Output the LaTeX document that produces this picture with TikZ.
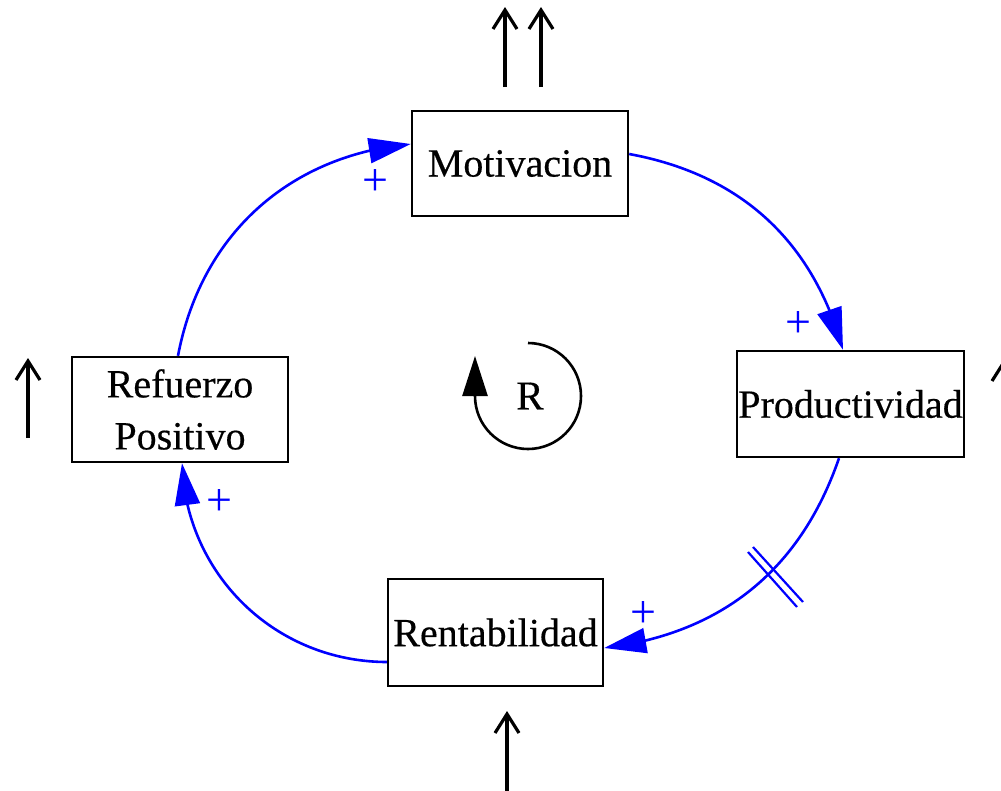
\documentclass[tikz,border=0pt]{standalone}
\usepackage{fontspec}
\setmainfont{Liberation Serif}[FakeBold=0.4]
\newfontfamily\plainserif{Liberation Serif}
\usetikzlibrary{arrows.meta,bending}
\begin{document}
\begin{tikzpicture}[x=1pt,y=1pt,
  box/.style={draw=black, line width=2.4pt, inner sep=0pt, font=\fontsize{40}{52}\selectfont, align=center},
  link/.style={draw=blue, line width=2.6pt, -{Triangle[length=42pt,width=25pt]}},
  pol/.style={text=blue, font=\plainserif\fontsize{46}{50}\selectfont, inner sep=0pt},
  flow/.style={draw=black, line width=3.2pt, -{Straight Barb[length=19pt,width=24pt]}},
  delaymark/.style={draw=blue, line width=2.2pt}]
\useasboundingbox (0,0) rectangle (1001,-790);
\clip (0,0) rectangle (1001,-790);

% boxes
\node[box, minimum width=216pt, minimum height=105pt] (mot) at (520,-163.5) {Motivacion};
\node[box, minimum width=227pt, minimum height=106pt] (prod) at (850.5,-404) {Productividad};
\node[box, minimum width=215pt, minimum height=107pt] (rent) at (495.5,-632.5) {Rentabilidad};
\node[box, minimum width=216pt, minimum height=105pt] (ref) at (180,-409.5) {Refuerzo\\Positivo};

% causal links
\draw[link] ([xshift=-2pt]ref.north) to[bend left=37] ([yshift=19.5pt]mot.west);
\draw[link] ([yshift=9.5pt]mot.east) to[bend left=32] ([xshift=-7.5pt]prod.north);
\draw[link] ([xshift=-11.5pt]prod.south) to[bend left=32] ([yshift=-15.5pt]rent.east);
\draw[link] ([yshift=-29.5pt]rent.west) to[bend left=44] ([xshift=2pt]ref.south);

% polarity signs
\node[pol] (p1) at (375,-183) {+};
\node[pol] (p2) at (798,-325) {+};
\node[pol] (p3) at (643,-614) {+};
\node[pol] (p4) at (219,-502) {+};

% delay marks
\draw[delaymark] (748,-552) -- (797,-607);
\draw[delaymark] (753,-547) -- (803,-602);

% loop identifier
\node[font=\fontsize{41}{44}\selectfont, inner sep=0pt] (R) at (530,-396) {R};
\coordinate (loopc) at (528,-396);
\draw[line width=2.6pt, -{Triangle[length=40pt,width=25pt]}]
  ([yshift=53pt]loopc) arc[start angle=90, end angle=-180, radius=53] -- ++(0,40);

% flow stubs
\coordinate (a1s) at (505,-87);  \coordinate (a1e) at (505,-7);
\coordinate (a2s) at (541,-87);  \coordinate (a2e) at (541,-7);
\coordinate (a3s) at (28,-438);  \coordinate (a3e) at (28,-358);
\coordinate (a4s) at (507,-800); \coordinate (a4e) at (507,-711);
\coordinate (a5s) at (1004,-440); \coordinate (a5e) at (1004,-359);
\draw[flow] (a1s) -- (a1e);
\draw[flow] (a2s) -- (a2e);
\draw[flow] (a3s) -- (a3e);
\draw[flow] (a4s) -- (a4e);
\draw[flow] (a5s) -- (a5e);
\end{tikzpicture}
\end{document}
